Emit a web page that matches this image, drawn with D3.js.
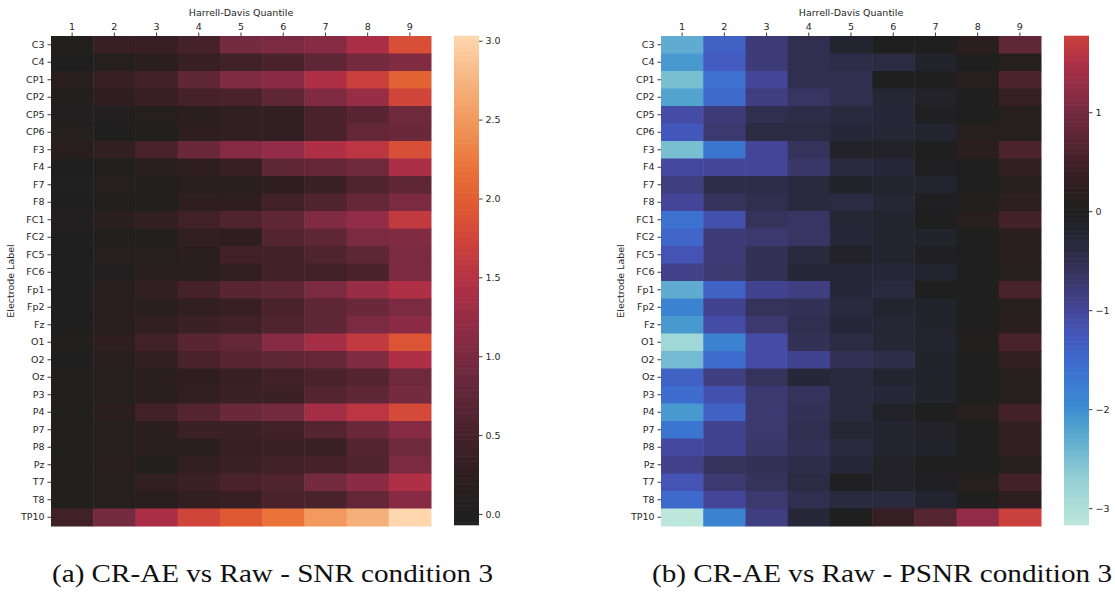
<!DOCTYPE html>
<html>
<head>
<meta charset="utf-8">
<script src="https://cdn.jsdelivr.net/npm/d3@7"></script>
<style>
  html, body { margin: 0; padding: 0; background: #fff; }
  svg { display: block; }
  .tick text { font-family: "DejaVu Sans", sans-serif; fill: #262626; }
</style>
</head>
<body>
<svg id="fig" width="1115" height="592"></svg>
<script>
// Electrode rows and quantile columns shared by both panels
const electrodes = ["C3","C4","CP1","CP2","CP5","CP6","F3","F4","F7","F8","FC1","FC2","FC5","FC6",
  "Fp1","Fp2","Fz","O1","O2","Oz","P3","P4","P7","P8","Pz","T7","T8","TP10"];
const quantiles = ["1","2","3","4","5","6","7","8","9"];

// (a) SNR difference, CR-AE vs Raw
const snrValues = [
  [0.05,0.35,0.35,0.50,0.95,1.00,1.10,1.40,1.85],
  [0.02,0.10,0.20,0.35,0.45,0.55,0.75,0.95,1.05],
  [0.15,0.35,0.45,0.75,1.05,1.15,1.45,1.70,2.05],
  [0.05,0.25,0.35,0.50,0.55,0.75,1.05,1.25,1.75],
  [0.03,0.03,0.10,0.20,0.30,0.30,0.55,0.70,0.90],
  [0.10,0.02,0.05,0.25,0.30,0.30,0.55,0.80,0.85],
  [0.15,0.30,0.55,0.85,1.10,1.20,1.45,1.55,1.85],
  [0.00,0.05,0.15,0.25,0.35,0.75,0.80,0.90,1.40],
  [-0.02,0.10,0.05,0.15,0.20,0.25,0.40,0.60,0.75],
  [0.02,0.05,0.05,0.25,0.25,0.45,0.60,0.80,1.00],
  [0.03,0.20,0.30,0.45,0.60,0.75,1.05,1.20,1.60],
  [0.02,0.05,0.05,0.30,0.25,0.65,0.75,1.00,1.05],
  [0.02,0.10,0.10,0.20,0.45,0.45,0.60,0.75,1.00],
  [0.02,0.03,0.20,0.20,0.30,0.45,0.45,0.55,1.00],
  [0.02,0.15,0.30,0.50,0.70,0.75,1.00,1.25,1.45],
  [0.02,0.15,0.20,0.30,0.35,0.55,0.75,0.85,1.00],
  [0.02,0.15,0.30,0.40,0.45,0.60,0.75,1.00,1.15],
  [0.05,0.25,0.45,0.70,0.80,1.10,1.35,1.60,1.90],
  [0.02,0.15,0.30,0.55,0.70,0.75,0.80,1.05,1.45],
  [0.05,0.10,0.20,0.25,0.35,0.45,0.55,0.65,0.90],
  [0.05,0.10,0.20,0.30,0.40,0.40,0.65,0.75,0.95],
  [0.05,0.20,0.45,0.65,0.85,0.95,1.35,1.55,1.80],
  [0.05,0.10,0.20,0.40,0.40,0.45,0.65,0.85,1.10],
  [0.05,0.10,0.20,0.20,0.35,0.40,0.40,0.65,0.90],
  [0.05,0.15,0.05,0.30,0.40,0.45,0.50,0.60,1.00],
  [0.05,0.10,0.30,0.40,0.55,0.60,0.95,1.15,1.45],
  [0.05,0.10,0.15,0.30,0.35,0.55,0.55,0.80,1.10],
  [0.45,0.95,1.40,1.75,1.95,2.20,2.50,2.70,3.03]
];

// (b) PSNR difference, CR-AE vs Raw
const psnrValues = [
  [-2.30,-1.40,-0.80,-0.50,-0.20,0.00,0.00,0.20,0.80],
  [-2.10,-1.30,-0.80,-0.50,-0.45,-0.40,-0.15,0.00,0.10],
  [-2.50,-1.60,-1.00,-0.50,-0.50,0.00,0.00,0.15,0.60],
  [-2.20,-1.50,-0.85,-0.65,-0.50,-0.25,-0.10,0.00,0.35],
  [-1.10,-0.80,-0.50,-0.45,-0.35,-0.30,-0.05,0.00,0.15],
  [-1.25,-0.75,-0.40,-0.40,-0.30,-0.25,-0.20,0.10,0.15],
  [-2.50,-1.65,-1.00,-0.60,-0.10,-0.10,0.00,0.20,0.60],
  [-1.05,-1.00,-1.00,-0.70,-0.35,-0.30,-0.05,0.00,0.30],
  [-0.85,-0.45,-0.45,-0.35,-0.15,-0.20,-0.20,0.00,0.15],
  [-1.00,-0.60,-0.50,-0.35,-0.40,-0.25,-0.05,0.05,0.25],
  [-1.60,-1.15,-0.60,-0.65,-0.25,-0.20,0.00,0.15,0.50],
  [-1.45,-0.80,-0.75,-0.65,-0.30,-0.20,-0.15,0.00,0.20],
  [-1.20,-0.80,-0.55,-0.35,-0.10,-0.20,-0.05,0.00,0.20],
  [-0.90,-0.75,-0.55,-0.30,-0.30,-0.30,-0.20,0.00,0.15],
  [-2.30,-1.40,-0.95,-0.85,-0.30,-0.35,0.00,0.00,0.55],
  [-1.85,-0.95,-0.60,-0.55,-0.35,-0.20,-0.15,0.00,0.15],
  [-2.10,-1.10,-0.75,-0.50,-0.30,-0.25,-0.15,0.00,0.20],
  [-2.85,-1.85,-1.10,-0.55,-0.40,-0.25,-0.20,0.05,0.55],
  [-2.45,-1.55,-1.10,-0.95,-0.55,-0.45,-0.15,0.00,0.30],
  [-1.40,-0.85,-0.60,-0.30,-0.35,-0.20,-0.15,0.00,0.15],
  [-1.55,-1.15,-0.75,-0.60,-0.35,-0.30,-0.15,0.00,0.15],
  [-2.10,-1.40,-0.75,-0.55,-0.35,-0.10,0.00,0.15,0.50],
  [-1.65,-0.95,-0.75,-0.50,-0.25,-0.20,-0.10,0.00,0.30],
  [-1.05,-0.95,-0.70,-0.55,-0.35,-0.20,-0.15,0.00,0.30],
  [-0.90,-0.60,-0.55,-0.45,-0.30,-0.10,0.00,0.00,0.15],
  [-1.20,-0.75,-0.60,-0.40,-0.05,-0.10,-0.05,0.10,0.50],
  [-1.50,-1.00,-0.75,-0.50,-0.35,-0.35,-0.20,0.00,0.25],
  [-3.17,-1.85,-0.85,-0.30,0.00,0.35,0.70,1.25,1.77]
];

const snrTicks = [0, 0.5, 1, 1.5, 2, 2.5, 3];
const psnrTicks = [-3, -2, -1, 0, 1];

// Diverging ice/fire colour map sampled at a few positions on [0, 1]
const icefireStops = [0.00, 0.08, 0.15, 0.19, 0.25, 0.30, 0.34, 0.39, 0.44, 0.47, 0.50,
                      0.54, 0.58, 0.62, 0.66, 0.70, 0.74, 0.78, 0.82, 0.86, 0.90, 0.95, 1.00];
const icefireColors = ["#bde7db","#8fcdd4","#55a5cf","#3a8bd2","#3c70d0","#4458be","#44469a","#3a3769","#2b2a40","#242430","#1f1f1f",
                       "#2d1e21","#43212a","#5c2635","#762a40","#942c46","#b03046","#cb403c","#de5832","#e97038","#f09155","#f6b27d","#fed7af"];
const icefire = d3.scaleLinear().domain(icefireStops).range(icefireColors)
  .interpolate(d3.interpolateRgb).clamp(true);

const svg = d3.select("#fig");
const fontSans = "DejaVu Sans, sans-serif";

function drawPanel(opt) {
  const g = svg.append("g");
  const x = d3.scaleBand().domain(quantiles).range([opt.left, opt.left + 380]);
  const y = d3.scaleBand().domain(electrodes).range([36, 526]);

  // colour: centred at 0, range symmetric about the centre
  const vr = Math.max(opt.vmax, -opt.vmin);
  const toT = d3.scaleLinear().domain([-vr, vr]).range([0, 1]);
  const color = v => icefire(toT(v));

  const cells = [];
  opt.values.forEach((row, i) => row.forEach((v, j) => cells.push({r: electrodes[i], c: quantiles[j], v})));
  g.selectAll("rect.cell").data(cells).join("rect")
    .attr("class", "cell")
    .attr("x", d => x(d.c)).attr("y", d => y(d.r))
    .attr("width", x.bandwidth() + 0.5).attr("height", y.bandwidth() + 0.5)
    .attr("fill", d => color(d.v));

  const xAxis = g.append("g").attr("transform", "translate(0,36)")
    .call(d3.axisTop(x).tickSize(3.5).tickPadding(3));
  const yAxis = g.append("g").attr("transform", `translate(${opt.left},0)`)
    .call(d3.axisLeft(y).tickSize(3.5).tickPadding(3));
  [xAxis, yAxis].forEach(a => {
    a.select(".domain").remove();
    a.selectAll(".tick line").attr("stroke", "#262626").attr("stroke-width", 0.9);
    a.selectAll(".tick text").style("font-size", "9.5px");
  });

  g.append("text").attr("x", opt.left + 190).attr("y", 16)
    .attr("text-anchor", "middle").style("font-family", fontSans).style("font-size", "9.5px")
    .attr("fill", "#262626").text("Harrell-Davis Quantile");
  g.append("text").attr("transform", `translate(${opt.left - 37},281) rotate(-90)`)
    .attr("text-anchor", "middle").style("font-family", fontSans).style("font-size", "9.5px")
    .attr("fill", "#262626").text("Electrode Label");

  // colour bar
  const cb = d3.scaleLinear().domain([opt.vmin, opt.vmax]).range([525, 36]);
  const steps = d3.range(0, 200).map(k => opt.vmin + (opt.vmax - opt.vmin) * k / 200);
  const dv = (opt.vmax - opt.vmin) / 200;
  g.selectAll("rect.cb").data(steps).join("rect")
    .attr("class", "cb")
    .attr("x", opt.cbLeft).attr("width", 25)
    .attr("y", d => cb(d + dv) - 0.3)
    .attr("height", d => cb(d) - cb(d + dv) + 0.6)
    .attr("fill", d => color(d + dv / 2));
  const cbAxis = g.append("g").attr("transform", `translate(${opt.cbLeft + 25},0)`)
    .call(d3.axisRight(cb).tickValues(opt.ticks).tickFormat(opt.fmt).tickSize(3.5).tickPadding(3));
  cbAxis.select(".domain").remove();
  cbAxis.selectAll(".tick line").attr("stroke", "#262626").attr("stroke-width", 0.9);
  cbAxis.selectAll(".tick text").style("font-size", "9.5px");

  svg.append("text").attr("x", opt.capX).attr("y", 582)
    .style("font-family", "Liberation Serif, serif").style("font-size", "25px")
    .attr("fill", "#111").attr("textLength", opt.capW).attr("lengthAdjust", "spacingAndGlyphs")
    .text(opt.caption);
}

drawPanel({
  left: 51, cbLeft: 454, values: snrValues, vmin: -0.07, vmax: 3.03,
  ticks: snrTicks, fmt: d3.format(".1f"),
  caption: "(a) CR-AE vs Raw - SNR condition 3", capX: 52, capW: 441
});
drawPanel({
  left: 661, cbLeft: 1064, values: psnrValues, vmin: -3.17, vmax: 1.77,
  ticks: psnrTicks, fmt: d => d3.format("d")(d).replace("-", "\u2212"),
  caption: "(b) CR-AE vs Raw - PSNR condition 3", capX: 652, capW: 460
});
</script>
</body>
</html>
